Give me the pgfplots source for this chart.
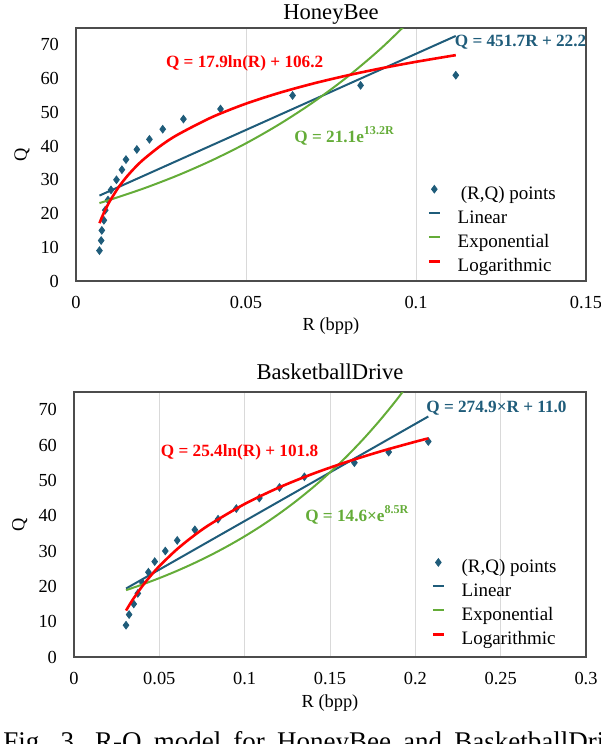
\documentclass[border=0pt]{standalone}
\usepackage{fontspec}
\setmainfont{Liberation Serif}
\usepackage{pgfplots}
\pgfplotsset{compat=1.18}

\definecolor{qblue}{RGB}{31,92,122}
\definecolor{qgreen}{RGB}{100,172,56}
\definecolor{qred}{RGB}{255,0,0}

\newcommand{\tickfont}{\fontsize{9.2}{11}\selectfont}
\newcommand{\eqfont}{\fontsize{8.6}{10}\selectfont\bfseries}

\pgfplotsset{
  rq/.style={
    scale only axis,
    anchor=south west,
    clip mode=individual,
    ymin=0, ymax=75, ytick={0,10,...,70},
    xmin=0,
    axis line style={black!70, line width=0.6pt},
    major tick length=0pt,
    xmajorgrids,
    major grid style={black!15, line width=0.5pt},
    scaled x ticks=false,
    /pgf/number format/assume math mode=true,
    xticklabel style={/pgf/number format/fixed, /pgf/number format/precision=2,
      yshift=-4pt, font=\tickfont},
    yticklabel style={xshift=-5pt, font=\tickfont},
    every axis x label/.style={at={(axis description cs:0.5,0)}, anchor=center,
      yshift=-22.5pt, font=\tickfont},
    every axis y label/.style={at={(axis description cs:-0.106,0.5)}, rotate=90,
      anchor=center, font=\tickfont},
    every axis title/.style={at={(axis description cs:0.5,1)}, anchor=base,
      yshift=6.5pt, font=\fontsize{11.3}{13}\selectfont},
    xlabel={R (bpp)}, ylabel={Q},
    legend cell align=left,
    legend style={draw=none, fill=none, anchor=north west, inner sep=0pt,
      outer sep=0pt, row sep=3pt, /tikz/column sep=0pt,
      font=\fontsize{9.5}{11}\selectfont,
      nodes={inner sep=0pt, text height=7pt, text depth=2pt}},
    pts/.style={only marks, mark=diamond*, mark size=1.9pt, qblue,
      legend image code/.code={\draw[##1, only marks] plot coordinates {(2.75pt,2.5pt)};
        \path (0pt,0pt) (13.75pt,0pt);}},
    fit/.style={no marks, smooth, line width=1pt,
      legend image code/.code={\draw[##1] (0pt,2.5pt) -- (5.5pt,2.5pt);
        \path (0pt,0pt) (13.75pt,0pt);}},
  }
}

\begin{document}
\begin{tikzpicture}
\useasboundingbox (0pt,0pt) rectangle (300pt,-372pt);
\clip (0pt,0pt) rectangle (300pt,-372pt);

% HoneyBee
\begin{axis}[rq,
  at={(38pt,-140.5pt)}, width=255pt, height=126.5pt,
  xmax=0.15, xtick={0,0.05,0.1,0.15},
  title={HoneyBee},
  every axis title/.append style={yshift=-2pt},
  legend style={at={(axis cs:0.1034,28.4)}},
]
\addplot[pts] coordinates {
  (0.0069,9) (0.0074,12) (0.0076,15) (0.0082,18) (0.0086,21) (0.0094,24)
  (0.0103,27) (0.0119,30) (0.0135,33) (0.0147,36) (0.0179,39) (0.0216,42)
  (0.0255,45) (0.0316,48) (0.0425,51) (0.0637,55) (0.0837,58) (0.1117,61)
};
\addlegendentry{\,(R,Q) points}
\addplot[fit, qblue] coordinates {(0.0069,25.32) (0.1117,72.65)};
\addlegendentry{Linear}
\addplot[fit, qgreen] coordinates {
  (0.0069,23.11) (0.01,24.08) (0.02,27.47) (0.03,31.35) (0.04,35.78)
  (0.05,40.82) (0.06,46.59) (0.07,53.16) (0.08,60.66) (0.09,69.22) (0.1,78.99)
};
\addlegendentry{Exponential}
\addplot[fit, qred, line width=1.3pt] coordinates {
  (0.0069,17.13) (0.0075,18.62) (0.008,19.77) (0.009,21.88) (0.01,23.77)
  (0.0125,27.76) (0.015,31.02) (0.0175,33.78) (0.02,36.17) (0.025,40.17)
  (0.03,43.43) (0.04,48.58) (0.05,52.58) (0.06,55.84) (0.07,58.60)
  (0.08,60.99) (0.09,63.10) (0.1,64.98) (0.1117,66.96)
};
\addlegendentry{Logarithmic}
\node[qred, font=\eqfont] at (axis cs:0.0496,64.6) {Q = 17.9ln(R) + 106.2};
\node[qblue, font=\eqfont, anchor=west, inner sep=0pt] at (axis cs:0.1113,70.8) {Q = 451.7R + 22.2};
\node[qgreen, font=\eqfont] at (axis cs:0.079,43.0) {Q = 21.1e\textsuperscript{13.2R}};
\end{axis}

% BasketballDrive
\begin{axis}[rq,
  at={(37pt,-328.5pt)}, width=256pt, height=132.5pt,
  xmax=0.3, xtick={0,0.05,...,0.3},
  title={BasketballDrive},
  every axis x label/.append style={yshift=-0.5pt},
  legend style={at={(axis cs:0.2095,27.9)}},
]
\addplot[pts] coordinates {
  (0.0305,9) (0.0323,12) (0.0350,15) (0.0374,18) (0.0401,21) (0.0436,24)
  (0.0473,27) (0.0535,30) (0.0605,33) (0.0708,36) (0.0844,39) (0.0951,42)
  (0.1086,45) (0.1204,48) (0.1350,51) (0.1643,55) (0.1844,58) (0.2076,61)
};
\addlegendentry{(R,Q) points}
\addplot[fit, qblue] coordinates {(0.0305,19.38) (0.2076,68.07)};
\addlegendentry{Linear}
\addplot[fit, qgreen] coordinates {
  (0.0305,18.92) (0.04,20.51) (0.05,22.33) (0.06,24.31) (0.07,26.47)
  (0.08,28.82) (0.09,31.38) (0.1,34.16) (0.11,37.19) (0.12,40.49)
  (0.13,44.08) (0.14,47.99) (0.15,52.25) (0.16,56.88) (0.17,61.93)
  (0.18,67.43) (0.19,73.40) (0.2,79.92)
};
\addlegendentry{Exponential}
\addplot[fit, qred, line width=1.3pt] coordinates {
  (0.0305,13.15) (0.033,15.16) (0.035,16.65) (0.04,20.04) (0.045,23.03)
  (0.05,25.71) (0.06,30.35) (0.07,34.26) (0.08,37.64) (0.1,43.31)
  (0.12,47.95) (0.14,51.86) (0.16,55.24) (0.18,58.24) (0.2,60.93)
  (0.2076,61.87)
};
\addlegendentry{Logarithmic}
\node[qred, font=\eqfont] at (axis cs:0.097,58.0) {Q = 25.4ln(R) + 101.8};
\node[qblue, font=\eqfont, anchor=west, inner sep=0pt] at (axis cs:0.2062,70.5) {Q = 274.9×R + 11.0};
\node[qgreen, font=\eqfont] at (axis cs:0.166,40.3) {Q = 14.6×e\textsuperscript{8.5R}};
\end{axis}

\node[anchor=base west, inner sep=0pt, font=\fontsize{13.5}{15}\selectfont]
  at (1.5pt,-375pt) {\spaceskip=0.45em Fig. 3. R-Q model for HoneyBee and BasketballDrive sequences};
\end{tikzpicture}
\end{document}
